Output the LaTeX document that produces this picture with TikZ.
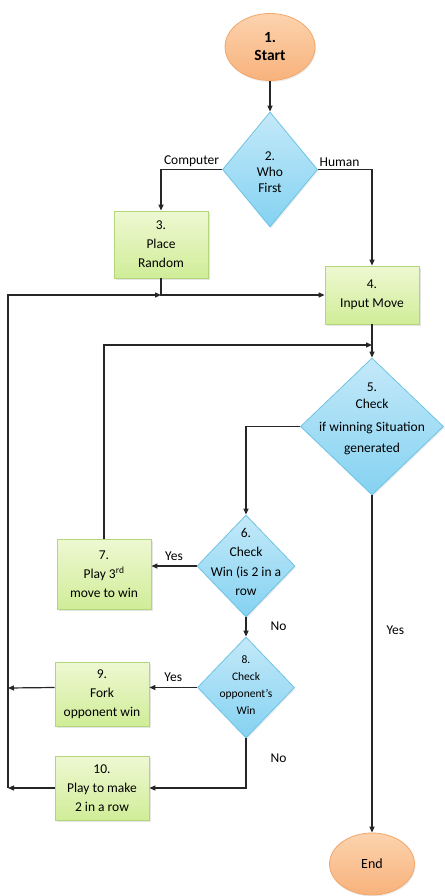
\documentclass[tikz,border=0pt]{standalone}
\usepackage{fontspec}
\setmainfont{Carlito}
\usetikzlibrary{shapes.geometric,arrows.meta,shadows,calc}

\definecolor{termline}{HTML}{F2A86C}
\definecolor{termtop}{HTML}{FCD3AE}
\definecolor{termbot}{HTML}{F8B27C}
\definecolor{decline}{HTML}{6EC4E4}
\definecolor{dectop}{HTML}{C4E9F9}
\definecolor{decbot}{HTML}{84D2F1}
\definecolor{procline}{HTML}{B3D67A}
\definecolor{proctop}{HTML}{EEF8D2}
\definecolor{procbot}{HTML}{D0ED98}

\tikzset{
  terminal/.style={ellipse, draw=termline, line width=0.8pt, top color=termtop, bottom color=termbot,
    minimum width=90pt, inner sep=0pt, align=center, drop shadow={opacity=0.15,shadow xshift=1pt,shadow yshift=-1.5pt}},
  decision/.style={diamond, draw=decline, line width=0.8pt, top color=dectop, bottom color=decbot,
    inner sep=0pt, drop shadow={opacity=0.15,shadow xshift=1pt,shadow yshift=-1.5pt}},
  process/.style={rectangle, draw=procline, line width=0.8pt, top color=proctop, bottom color=procbot,
    minimum width=94pt, inner sep=0pt, align=center, font=\fontsize{13.5}{19}\selectfont,
    drop shadow={opacity=0.2,shadow xshift=1.5pt,shadow yshift=-1.5pt}},
  dtext/.style={align=center, inner sep=0pt, font=\fontsize{13.5}{16}\selectfont},
  flow/.style={draw=black!85, line width=1.2pt, -{Triangle[length=6pt,width=5pt]}},
  lbl/.style={font=\fontsize{13.5}{15}\selectfont, inner sep=2pt}
}

\begin{document}
\begin{tikzpicture}[x=1pt,y=-1pt]
  \useasboundingbox[fill=white] (0,0) rectangle (444,896);

  % nodes
  \node[terminal, minimum height=67pt, font=\bfseries\fontsize{15.5}{18}\selectfont] (start) at (270,47) {1.\\Start};
  \node[decision, minimum width=95pt, minimum height=115pt] (d2) at (270,169.5) {};
  \node[dtext] (t2) at (270,172) {2.\\Who\\First};
  \node[process, minimum height=67pt] (b3) at (161,244.5) {3.\\Place\\Random};
  \node[process, minimum height=58pt] (b4) at (372,295) {4.\\Input Move};
  \node[decision, minimum width=143pt, minimum height=137pt] (d5) at (372,426.5) {};
  \node[dtext, font=\fontsize{13.5}{17}\selectfont] (t5) at (372,419) {5.\\Check\\[6pt]if winning Situation\\[4pt]generated};
  \node[decision, minimum width=98pt, minimum height=102pt] (d6) at (246,566) {};
  \node[dtext, font=\fontsize{13.5}{19.5}\selectfont] (t6) at (246,562) {6.\\Check\\Win (is 2 in a\\row};
  \node[process, minimum height=70pt] (b7) at (104,574) {7.\\Play 3\textsuperscript{rd}\\move to win};
  \node[decision, minimum width=97pt, minimum height=101pt] (d8) at (246,687.5) {};
  \node[dtext, font=\fontsize{11.5}{17}\selectfont] (t8) at (246,685) {8.\\Check\\opponent's\\Win};
  \node[process, minimum height=64pt] (b9) at (102,694) {9.\\Fork\\opponent win};
  \node[process, minimum height=64pt] (b10) at (102,788) {10.\\Play to make\\2 in a row};
  \node[terminal, minimum width=85pt, minimum height=62pt, font=\fontsize{14}{15}\selectfont] (end) at (372,864) {End};

  % junctions
  \coordinate (j1) at (b3.south |- b4.west);
  \coordinate (j2) at (372,345);
  \coordinate (l3) at (8,295);
  \coordinate (l9) at (8,688);
  \coordinate (l10) at (8,788);

  % connectors
  \draw[flow] (start) -- (d2);
  \draw[flow] (d2.west) -| node[lbl, pos=0.25, above] {Computer} (b3.north);
  \draw[flow] (d2.east) -| node[lbl, pos=0.2, above] {Human} (b4.north);
  \draw[flow] (b3.south) -- (j1) -- (b4.west);
  \draw[flow] (b10.west) -- (l10);
  \draw[flow] (d8.west -| b9.west) -- (l9);
  \draw[flow] (l10) -- (l3) -- (j1);
  \draw[flow] (b4.south) -- (d5.north);
  \draw[flow] (b7.north) |- (j2);
  \draw[flow] (d5.west) -| (d6.north);
  \draw[flow] (d6.west) -- node[lbl, above=3pt] {Yes} (d6.west -| b7.east);
  \draw[flow] (d6.south) -- node[lbl, pos=0.45, right=22pt] {No} (d8.north);
  \draw[flow] (d8.west) -- node[lbl, above=3pt] {Yes} (d8.west -| b9.east);
  \draw[flow] (d8.south) |- node[lbl, pos=0.2, right=22pt] {No} (b10.east);
  \draw[flow] (d5.south) -- node[lbl, pos=0.4, right=12pt] {Yes} (end.north);
\end{tikzpicture}
\end{document}
